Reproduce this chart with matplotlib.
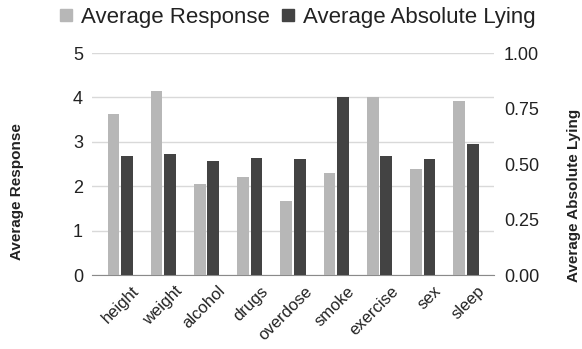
import matplotlib.pyplot as plt
import numpy as np
from matplotlib.lines import Line2D
from matplotlib.transforms import ScaledTranslation

plt.rcParams['font.family'] = ['Liberation Sans', 'DejaVu Sans']

categories = ['height', 'weight', 'alcohol', 'drugs', 'overdose',
              'smoke', 'exercise', 'sex', 'sleep']
avg_response = [3.62, 4.15, 2.04, 2.20, 1.67, 2.29, 4.01, 2.39, 3.93]
avg_abs_lying = [0.535, 0.545, 0.514, 0.529, 0.521, 0.804, 0.538, 0.524, 0.590]

LIGHT = '#b7b7b7'
DARK = '#434343'
GRID = '#d9d9d9'
TEXT = '#222222'

fig = plt.figure(figsize=(5.82, 3.49), dpi=100)
ax = fig.add_axes([0.158, 0.212, 0.691, 0.636])
ax2 = ax.twinx()

x = np.arange(len(categories))
w = 0.27
off = 0.155

ax.bar(x - off, avg_response, width=w, color=LIGHT, zorder=3)
ax2.bar(x + off, avg_abs_lying, width=w, color=DARK, zorder=3)

ax.set_ylim(0, 5)
ax2.set_ylim(0, 1)
ax.set_xlim(-0.65, len(categories) - 0.35)
ax.set_yticks(range(6))
ax2.set_yticks([0, 0.25, 0.5, 0.75, 1.0])
ax2.set_yticklabels(['0.00', '0.25', '0.50', '0.75', '1.00'])

ax.grid(axis='y', color=GRID, linewidth=1, zorder=0)
ax.set_axisbelow(True)

for a in (ax, ax2):
    for s in a.spines.values():
        s.set_visible(False)
    a.tick_params(length=0, labelsize=13, colors=TEXT)
ax.spines['bottom'].set_visible(True)
ax.spines['bottom'].set_color('#8a8a8a')
ax.tick_params(axis='y', pad=6.5)
ax2.tick_params(axis='y', pad=7)

ax.set_xticks(x)
ax.set_xticklabels(categories, rotation=45, ha='right', rotation_mode='anchor',
                   fontsize=12)
ax.tick_params(axis='x', pad=6)
shift = ScaledTranslation(11 / 100, 0, fig.dpi_scale_trans)
for lab in ax.get_xticklabels():
    lab.set_transform(lab.get_transform() + shift)

fig.text(0.030, 0.450, 'Average Response', rotation=90, ha='center', va='center',
         fontsize=11, fontweight='bold', color=TEXT)
fig.text(0.987, 0.441, 'Average Absolute Lying', rotation=90, ha='center', va='center',
         fontsize=11, fontweight='bold', color=TEXT)

handles = [Line2D([], [], marker='s', linestyle='', color=LIGHT, markersize=8),
           Line2D([], [], marker='s', linestyle='', color=DARK, markersize=8)]
fig.legend(handles, ['Average Response', 'Average Absolute Lying'],
           loc='center', bbox_to_anchor=(0.51, 0.951), ncol=2, frameon=False,
           fontsize=16, handletextpad=0.3, columnspacing=0.5, handlelength=0.7,
           labelcolor=TEXT, borderpad=0)

fig.savefig('out.png', dpi=100)
